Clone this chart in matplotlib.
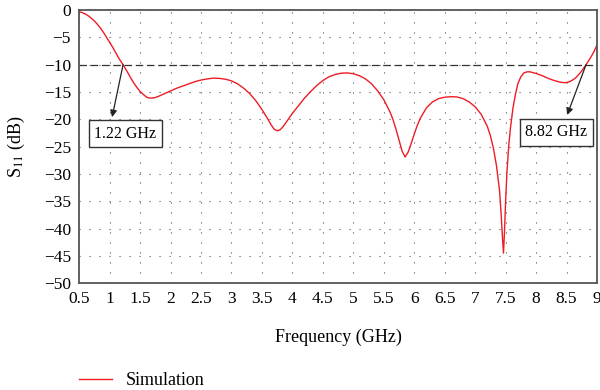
import matplotlib
matplotlib.use("Agg")
import matplotlib.pyplot as plt

# S11 curve
freq = [0.5, 0.55, 0.6, 0.65, 0.7, 0.75, 0.8, 0.85, 0.9, 0.95, 1.0, 1.05,
        1.1, 1.15, 1.22, 1.3, 1.35, 1.4, 1.45, 1.5, 1.55, 1.6, 1.65, 1.7,
        1.75, 1.8, 1.9, 2.0, 2.1, 2.2, 2.3, 2.4, 2.5, 2.6, 2.7, 2.8, 2.9,
        3.0, 3.1, 3.2, 3.3, 3.4, 3.5, 3.6, 3.65, 3.7, 3.75, 3.8, 3.85, 3.9,
        4.0, 4.1, 4.2, 4.3, 4.4, 4.5, 4.6, 4.7, 4.8, 4.9, 5.0, 5.1, 5.2,
        5.3, 5.4, 5.5, 5.6, 5.65, 5.7, 5.75, 5.8, 5.85, 5.9, 5.95, 6.0,
        6.05, 6.1, 6.2, 6.3, 6.4, 6.5, 6.6, 6.7, 6.8, 6.9, 7.0, 7.1, 7.2,
        7.25, 7.3, 7.35, 7.4, 7.43, 7.45, 7.465, 7.48, 7.5, 7.52, 7.55,
        7.58, 7.62, 7.66, 7.7, 7.75, 7.8, 7.85, 7.9, 8.0, 8.1, 8.2, 8.3,
        8.4, 8.48, 8.55, 8.6, 8.65, 8.7, 8.75, 8.82, 8.9, 8.95, 9.0]
s11 = [-0.3, -0.45, -0.7, -1.05, -1.5, -2.0, -2.6, -3.3, -4.1, -5.0, -5.9,
       -6.8, -7.8, -8.8, -10.0, -11.5, -12.5, -13.4, -14.2, -14.9, -15.4,
       -15.9, -16.1, -16.1, -16.0, -15.8, -15.3, -14.8, -14.3, -13.9, -13.5,
       -13.1, -12.8, -12.6, -12.45, -12.5, -12.65, -12.95, -13.5, -14.3,
       -15.3, -16.6, -18.2, -20.0, -21.0, -21.8, -22.1, -21.9, -21.3, -20.5,
       -18.9, -17.5, -16.1, -14.9, -13.8, -12.9, -12.2, -11.8, -11.55, -11.5,
       -11.65, -12.0, -12.6, -13.5, -14.8, -16.4, -18.6, -20.0, -21.8, -23.8,
       -25.8, -26.9, -26.0, -24.4, -22.7, -21.1, -19.8, -17.9, -16.8, -16.2,
       -15.95, -15.85, -15.9, -16.2, -16.8, -17.7, -19.1, -21.3, -23.0,
       -25.3, -28.5, -33.0, -38.0, -42.0, -44.5, -41.0, -35.0, -30.0, -25.0,
       -21.5, -18.0, -15.5, -13.5, -12.2, -11.5, -11.3, -11.3, -11.6, -12.0,
       -12.5, -12.9, -13.2, -13.3, -13.1, -12.8, -12.4, -11.8, -11.1, -10.0,
       -8.6, -7.6, -6.4]

xticks = [0.5, 1, 1.5, 2, 2.5, 3, 3.5, 4, 4.5, 5, 5.5, 6, 6.5, 7, 7.5, 8, 8.5, 9]
yticks = [0, -5, -10, -15, -20, -25, -30, -35, -40, -45, -50]

plt.rcParams['font.family'] = ['Liberation Serif', 'DejaVu Serif']
plt.rcParams['mathtext.fontset'] = 'stix'

fig = plt.figure(figsize=(6, 3.9), dpi=100)
ax = fig.add_axes([0.132, 0.274, 0.863, 0.7])

ax.plot(freq, s11, color='#ee1c25', lw=1.0, label='Simulation')
ax.axhline(-10, color='#333333', lw=0.9, ls=(0, (6, 3)))

ax.set_xlim(0.5, 9)
ax.set_ylim(-50, 0)
ax.set_xticks(xticks)
ax.set_xticklabels(['{:g}'.format(t) for t in xticks])
ax.set_yticks(yticks)
ax.set_yticklabels(['\u2212{:g}'.format(-t) if t < 0 else '0' for t in yticks])
ax.tick_params(length=0, labelsize=12.5)
ax.tick_params(axis='x', pad=6)
ax.tick_params(axis='y', pad=6)
ax.grid(True, color='#555555', lw=0.8, ls=(0, (1, 8)))
for s in ax.spines.values():
    s.set_color('#555555')
    s.set_linewidth(1.3)

ax.set_xlabel('Frequency (GHz)', fontsize=13, labelpad=15)
ax.set_ylabel(r'S$_{\mathit{11}}$ (dB)', fontsize=13, labelpad=12)

box = dict(boxstyle='square,pad=0.35', fc='white', ec='#333333', lw=1.0)
arrow = dict(arrowstyle='-|>', color='#222222', lw=0.9, mutation_scale=10,
             shrinkA=0, shrinkB=0)
ax.annotate('', xy=(1.04, -19.6), xytext=(1.22, -10), arrowprops=arrow)
ax.text(1.26, -22.6, '1.22 GHz', fontsize=11.5, ha='center', va='center', bbox=box)
ax.annotate('', xy=(8.51, -19.2), xytext=(8.82, -10), arrowprops=arrow)
ax.text(8.33, -22.4, '8.82 GHz', fontsize=11.5, ha='center', va='center', bbox=box)

fig.legend(loc='lower left', bbox_to_anchor=(0.105, -0.04), frameon=False,
           fontsize=13, handlelength=1.8, handletextpad=0.8)

fig.savefig('out.png', dpi=100)
